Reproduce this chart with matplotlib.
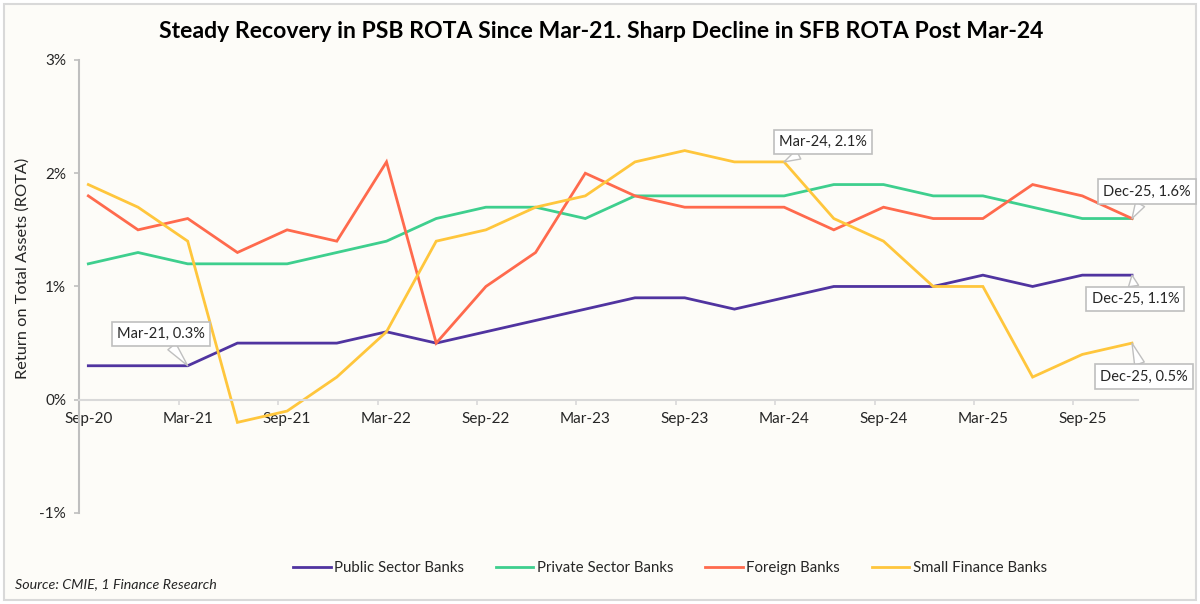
import matplotlib
matplotlib.use("Agg")
import matplotlib.pyplot as plt
from matplotlib.patches import Rectangle
from matplotlib.ticker import FuncFormatter, FixedLocator
import numpy as np

plt.rcParams['font.family'] = ['Lato', 'DejaVu Sans']

quarters = ["Sep-20", "Dec-20", "Mar-21", "Jun-21", "Sep-21", "Dec-21", "Mar-22", "Jun-22",
            "Sep-22", "Dec-22", "Mar-23", "Jun-23", "Sep-23", "Dec-23", "Mar-24", "Jun-24",
            "Sep-24", "Dec-24", "Mar-25", "Jun-25", "Sep-25", "Dec-25"]

public_sector = [0.3, 0.3, 0.3, 0.5, 0.5, 0.5, 0.6, 0.5, 0.6, 0.7, 0.8, 0.9, 0.9, 0.8, 0.9, 1.0,
                 1.0, 1.0, 1.1, 1.0, 1.1, 1.1]
private_sector = [1.2, 1.3, 1.2, 1.2, 1.2, 1.3, 1.4, 1.6, 1.7, 1.7, 1.6, 1.8, 1.8, 1.8, 1.8, 1.9,
                  1.9, 1.8, 1.8, 1.7, 1.6, 1.6]
foreign = [1.8, 1.5, 1.6, 1.3, 1.5, 1.4, 2.1, 0.5, 1.0, 1.3, 2.0, 1.8, 1.7, 1.7, 1.7, 1.5,
           1.7, 1.6, 1.6, 1.9, 1.8, 1.6]
small_finance = [1.9, 1.7, 1.4, -0.2, -0.1, 0.2, 0.6, 1.4, 1.5, 1.7, 1.8, 2.1, 2.2, 2.1, 2.1, 1.6,
                 1.4, 1.0, 1.0, 0.2, 0.4, 0.5]

series_names = ["Public Sector Banks", "Private Sector Banks", "Foreign Banks", "Small Finance Banks"]
series_values = [public_sector, private_sector, foreign, small_finance]
colors = ["#5034A0", "#3ECF8E", "#FF6A4D", "#FFC63C"]

y_ticks = [-1, 0, 1, 2, 3]

# annotations: (series index, quarter index, offset in points)
callouts = [(0, 2, (-19, 23)), (3, 14, (28, 14.5)), (1, 21, (11, 19.5)),
            (0, 21, (2.4, -17)), (3, 21, (8.7, -24))]

BG = "#FDFCF8"
GRAY = "#BFBFBF"
TXT = "#262626"

fig = plt.figure(figsize=(12, 6.04), dpi=100, facecolor="white")
fig.patches.append(Rectangle((4 / 1200, 4 / 604), 1192 / 1200, 596 / 604, transform=fig.transFigure,
                             facecolor=BG, edgecolor="#D9D9D9", lw=1.5, zorder=-10))
ax = fig.add_axes([0.0661, 0.1507, 0.8822, 0.75])
ax.set_facecolor("none")

x = np.arange(len(quarters))
for name, vals, c in zip(series_names, series_values, colors):
    ax.plot(x, vals, color=c, lw=2.0, label=name, solid_joinstyle="miter")

ax.set_xlim(-0.181, 21.12)
ax.set_ylim(-1, 3)

for s in ["top", "right"]:
    ax.spines[s].set_visible(False)
ax.spines["left"].set_color(GRAY)
ax.spines["left"].set_linewidth(1.5)
ax.spines["bottom"].set_position(("data", 0))
ax.spines["bottom"].set_color("#D9D9D9")
ax.spines["bottom"].set_linewidth(1.5)

label_idx = list(range(0, len(quarters), 2))
ax.xaxis.set_major_locator(FixedLocator(label_idx))
ax.set_xticklabels([quarters[i] for i in label_idx])
ax.xaxis.set_minor_locator(FixedLocator([i - 0.181 for i in label_idx]))
ax.tick_params(axis="x", which="major", length=0, pad=8.5, labelsize=11, labelcolor=TXT)
ax.tick_params(axis="x", which="minor", length=3.5, width=1.2, color="#D9D9D9", direction="out")

ax.set_yticks(y_ticks)
ax.yaxis.set_major_formatter(FuncFormatter(lambda v, p: f"{v:.0f}%"))
ax.tick_params(axis="y", length=3.5, width=1.2, color=GRAY, pad=6, labelsize=11, labelcolor=TXT)

fig.text(23 / 1200, 1 - 268 / 604, "Return on Total Assets (ROTA)", rotation=90, ha="center",
         va="center", fontsize=11.8, color=TXT)

fig.text(601 / 1200, 1 - 32 / 604,
         "Steady Recovery in PSB ROTA Since Mar-21. Sharp Decline in SFB ROTA Post Mar-24",
         ha="center", va="center", fontsize=16.6, fontweight="bold", color="black")

fig.text(15 / 1200, 1 - 584 / 604, "Source: CMIE, 1 Finance Research", ha="left", va="center",
         fontsize=10.3, style="italic", color=TXT)

for si, qi, off in callouts:
    v = series_values[si][qi]
    ax.annotate(f"{quarters[qi]}, {v:.1f}%", xy=(qi, v), xytext=off, textcoords="offset points",
                ha="center", va="center", fontsize=10.5, color=TXT,
                bbox=dict(boxstyle="square,pad=0.35", fc="white", ec=GRAY, lw=1.2),
                arrowprops=dict(arrowstyle="wedge,tail_width=0.7,shrink_factor=0.5", fc="white",
                                ec=GRAY, lw=1.0, shrinkA=0, shrinkB=0),
                annotation_clip=False, zorder=10)

fig.legend(loc="center", bbox_to_anchor=(670 / 1200, 1 - 568 / 604), ncol=4, frameon=False,
           fontsize=10.8, handlelength=2.5, handletextpad=0.25, columnspacing=2.1,
           labelcolor=TXT)

fig.savefig("out.png", dpi=100, facecolor="white")
